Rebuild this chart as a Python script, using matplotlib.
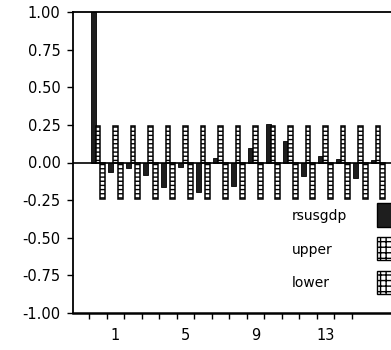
import matplotlib
matplotlib.use('Agg')
import matplotlib.pyplot as plt
from matplotlib.patches import Rectangle
import numpy as np

# ---- data ----
lags = [0, 1, 2, 3, 4, 5, 6, 7, 8, 9, 10, 11, 12, 13, 14, 15, 16]
rsusgdp = [1.0, -0.065, -0.035, -0.08, -0.165, -0.03, -0.197, 0.028, -0.155,
           0.097, 0.255, 0.145, -0.09, 0.045, 0.022, -0.1, 0.015]
upper = [0.245, 0.245, 0.245, 0.245, 0.245, 0.245, 0.245, 0.245, 0.245,
         0.245, 0.245, 0.245, 0.245, 0.245, 0.245, 0.245, 0.245]
lower = [-0.245, -0.245, -0.245, -0.245, -0.245, -0.245, -0.245, -0.245, -0.245,
         -0.245, -0.245, -0.245, -0.245, -0.245, -0.245, -0.245, -0.245]
xtick_labels = ['1', '5', '9', '13']
xtick_pos = [1, 5, 9, 13]
ytick_vals = [-1.0, -0.75, -0.5, -0.25, 0.0, 0.25, 0.5, 0.75, 1.0]
series_names = ['rsusgdp', 'upper', 'lower']

plt.rcParams['axes.unicode_minus'] = False
plt.rcParams['hatch.linewidth'] = 1.0
plt.rcParams['font.family'] = ['DejaVu Sans']

W, H = 391, 350
fig = plt.figure(figsize=(W / 100, H / 100), dpi=100)
ax = fig.add_axes([73 / W, 37 / H, 318 / W, 301 / H])

x = np.array(lags, dtype=float)
w = 0.27
ax.bar(x - w, rsusgdp, w, color='#1e1e1e', edgecolor='black', linewidth=0.6, zorder=2)
ax.bar(x, upper, w, facecolor='white', edgecolor='black', hatch='----', linewidth=1.1, zorder=2)
ax.bar(x + w, lower, w, facecolor='white', edgecolor='black', hatch='----', linewidth=1.1, zorder=2)
ax.axhline(0, color='black', linewidth=1.2, zorder=3)

ax.set_xlim(-1.43, 16.74)
ax.set_ylim(-1, 1)

ax.set_yticks(ytick_vals)
ax.set_yticklabels(['%.2f' % v for v in ytick_vals], fontsize=10.5)
ax.tick_params(axis='y', direction='out', length=4, width=1, pad=5)

ax.set_xticks([l - 0.5 for l in lags[:-1]])
ax.set_xticklabels([])
ax.tick_params(axis='x', which='major', direction='out', length=4, width=1)
ax.set_xticks(xtick_pos, minor=True)
ax.set_xticklabels(xtick_labels, minor=True, fontsize=10.5)
ax.tick_params(axis='x', which='minor', length=0, pad=11)

ax.spines['right'].set_visible(False)
ax.spines['top'].set_linewidth(1.3)
ax.spines['left'].set_linewidth(1.3)
ax.spines['bottom'].set_linewidth(1.8)

# legend (manual, partly cut at right edge like the reference)
leg_text_y = [216, 250, 283]
leg_box = [(203, 227), (237, 260), (271, 294)]
styles = [dict(facecolor='#1e1e1e', hatch=None),
          dict(facecolor='white', hatch='+++'),
          dict(facecolor='white', hatch='+++')]
for name, ty, (y0, y1), st in zip(series_names, leg_text_y, leg_box, styles):
    fig.text(292 / W, 1 - ty / H, name, fontsize=10, va='center', ha='left')
    r = Rectangle((377 / W, 1 - y1 / H), 20 / W, (y1 - y0) / H,
                  transform=fig.transFigure, edgecolor='black', linewidth=1.0,
                  **st)
    fig.patches.append(r)

fig.savefig('out.png', dpi=100)
